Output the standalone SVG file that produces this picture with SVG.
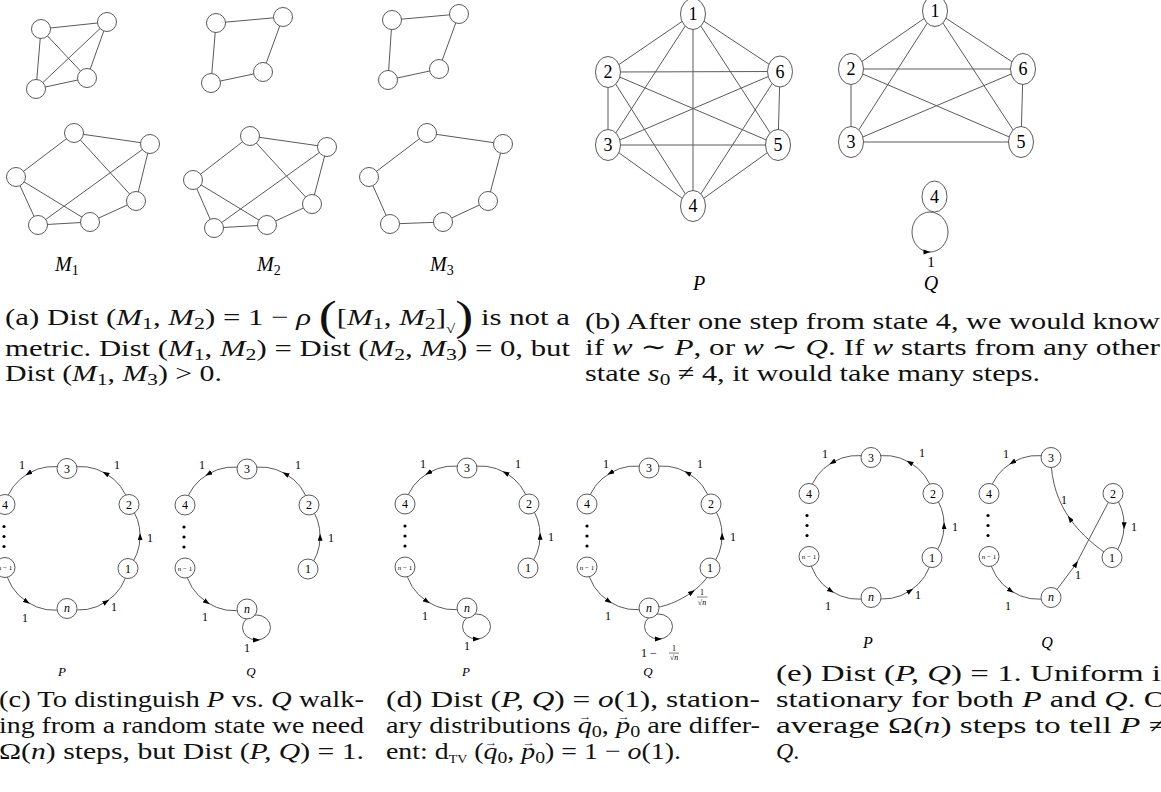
<svg xmlns="http://www.w3.org/2000/svg" xmlns:xlink="http://www.w3.org/1999/xlink" width="1161" height="792" viewBox="0 0 1161 792">
<defs>
<style>
.bg{fill:#fff}
.e{stroke:#5a5a5a;stroke-width:1;fill:none}
.ea{stroke:#5a5a5a;stroke-width:1;fill:none;marker-mid:url(#ah)}
.nd{fill:#fff;stroke:#5a5a5a;stroke-width:1}
.tx{font-family:"Liberation Serif","DejaVu Serif",serif;fill:#000}
.cap{font-family:"Liberation Serif","DejaVu Serif",serif;font-size:24px;fill:#111}
.i{font-style:italic}
.sb{font-size:17px}
.bp{font-size:42px}
.va{font-size:11px;font-style:normal}
.nl{font-family:"Liberation Serif","DejaVu Serif",serif;font-size:12px;text-anchor:middle;fill:#000}
.tiny{font-size:7px}
.el{font-family:"Liberation Serif","DejaVu Serif",serif;font-size:12px;text-anchor:middle;fill:#000}
.fr{font-family:"Liberation Serif","DejaVu Serif",serif;font-size:8px;text-anchor:middle;fill:#000}
.bl{font-family:"Liberation Serif","DejaVu Serif",serif;font-size:18px;text-anchor:middle;fill:#000}
.ml{font-family:"Liberation Serif","DejaVu Serif",serif;font-size:20px;fill:#000}
.pq{font-family:"Liberation Serif","DejaVu Serif",serif;font-style:italic;text-anchor:middle;fill:#000}
</style>
<marker id="ah" viewBox="0 0 7 5" markerWidth="7" markerHeight="5" refX="3.5" refY="2.5" orient="auto" markerUnits="userSpaceOnUse"><path d="M0,0 L7,2.5 L0,5 z" fill="#000"/></marker>
<path id="tri" d="M-3.5,-2.5 L3.5,0 L-3.5,2.5 z" fill="#000"/>
</defs>
<rect class="bg" x="0" y="0" width="1161" height="792"/>

<!-- ================= Panel (a) ================= -->
<g id="panel-a">
<g id="a-connectors">
<path class="e" d="M41,29L107,22M41,29L36,89M41,29L87,78M107,22L36,89M107,22L87,78M36,89L87,78"/>
<path class="e" d="M216,23L283,17M216,23L211,83M283,17L263,72M211,83L263,72"/>
<path class="e" d="M392,20L459,14M392,20L388,80M459,14L439,69M388,80L439,69"/>
<path class="e" d="M74,133L150,144M74,133L16,177M74,133L136,201M150,144L38,225M150,144L136,201M16,177L90,222M16,177L38,225M38,225L90,222M90,222L136,201"/>
<path class="e" d="M250,136L327,147M250,136L193,180M250,136L312,204M327,147L214,228M327,147L312,204M193,180L267,225M193,180L214,228M214,228L267,225M267,225L312,204"/>
<path class="e" d="M427,133L503,144M503,144L488,201M488,201L443,222M443,222L390,224M390,224L369,177M369,177L427,133"/>
</g>
<g id="a-M1-top"><circle class="nd" cx="41" cy="29" r="9.5"/><circle class="nd" cx="107" cy="22" r="9.5"/><circle class="nd" cx="36" cy="89" r="9.5"/><circle class="nd" cx="87" cy="78" r="9.5"/></g>
<g id="a-M2-top"><circle class="nd" cx="216" cy="23" r="9.5"/><circle class="nd" cx="283" cy="17" r="9.5"/><circle class="nd" cx="211" cy="83" r="9.5"/><circle class="nd" cx="263" cy="72" r="9.5"/></g>
<g id="a-M3-top"><circle class="nd" cx="392" cy="20" r="9.5"/><circle class="nd" cx="459" cy="14" r="9.5"/><circle class="nd" cx="388" cy="80" r="9.5"/><circle class="nd" cx="439" cy="69" r="9.5"/></g>
<g id="a-M1-bot"><circle class="nd" cx="74" cy="133" r="9.5"/><circle class="nd" cx="150" cy="144" r="9.5"/><circle class="nd" cx="16" cy="177" r="9.5"/><circle class="nd" cx="136" cy="201" r="9.5"/><circle class="nd" cx="38" cy="225" r="9.5"/><circle class="nd" cx="90" cy="222" r="9.5"/></g>
<g id="a-M2-bot"><circle class="nd" cx="250" cy="136" r="9.5"/><circle class="nd" cx="327" cy="147" r="9.5"/><circle class="nd" cx="193" cy="180" r="9.5"/><circle class="nd" cx="312" cy="204" r="9.5"/><circle class="nd" cx="214" cy="228" r="9.5"/><circle class="nd" cx="267" cy="225" r="9.5"/></g>
<g id="a-M3-bot"><circle class="nd" cx="427" cy="133" r="9.5"/><circle class="nd" cx="503" cy="144" r="9.5"/><circle class="nd" cx="369" cy="177" r="9.5"/><circle class="nd" cx="488" cy="201" r="9.5"/><circle class="nd" cx="390" cy="224" r="9.5"/><circle class="nd" cx="443" cy="222" r="9.5"/></g>
<text class="ml" x="55" y="271"><tspan class="i">M</tspan><tspan font-size="14" dy="4">1</tspan></text>
<text class="ml" x="257" y="271"><tspan class="i">M</tspan><tspan font-size="14" dy="4">2</tspan></text>
<text class="ml" x="430" y="271"><tspan class="i">M</tspan><tspan font-size="14" dy="4">3</tspan></text>
</g>

<!-- ================= Panel (b) ================= -->
<g id="panel-b">
<g id="b-connectors">
<path class="e" d="M693,14L608,72M693,14L780,71.5M693,14L608,145M693,14L778,145M693,14L693,206M608,72L780,71.5M608,72L608,145M608,72L778,145M608,72L693,206M780,71.5L608,145M780,71.5L778,145M780,71.5L693,206M608,145L778,145M608,145L693,206M778,145L693,206"/>
<path class="e" d="M935,11L851,69M935,11L1023,69M935,11L851,142M935,11L1021,142M851,69L1023,69M851,69L851,142M851,69L1021,142M1023,69L851,142M1023,69L1021,142M851,142L1021,142"/>
<ellipse class="e" cx="930" cy="232" rx="18" ry="20"/>
<use href="#tri" x="927" y="252"/>
<text class="tx" x="931" y="267" font-size="15" text-anchor="middle">1</text>
</g>
<g id="bP-1"><ellipse class="nd" cx="693" cy="14" rx="12.5" ry="15.5"/><text class="bl" x="693" y="20">1</text></g>
<g id="bP-2"><ellipse class="nd" cx="608" cy="72" rx="12.5" ry="15.5"/><text class="bl" x="608" y="78">2</text></g>
<g id="bP-6"><ellipse class="nd" cx="780" cy="71.5" rx="12.5" ry="15.5"/><text class="bl" x="780" y="77.5">6</text></g>
<g id="bP-3"><ellipse class="nd" cx="608" cy="145" rx="12.5" ry="15.5"/><text class="bl" x="608" y="151">3</text></g>
<g id="bP-5"><ellipse class="nd" cx="778" cy="145" rx="12.5" ry="15.5"/><text class="bl" x="778" y="151">5</text></g>
<g id="bP-4"><ellipse class="nd" cx="693" cy="206" rx="12.5" ry="15.5"/><text class="bl" x="693" y="212">4</text></g>
<g id="bQ-1"><ellipse class="nd" cx="935" cy="11" rx="12.5" ry="15.5"/><text class="bl" x="935" y="17">1</text></g>
<g id="bQ-2"><ellipse class="nd" cx="851" cy="69" rx="12.5" ry="15.5"/><text class="bl" x="851" y="75">2</text></g>
<g id="bQ-6"><ellipse class="nd" cx="1023" cy="69" rx="12.5" ry="15.5"/><text class="bl" x="1023" y="75">6</text></g>
<g id="bQ-3"><ellipse class="nd" cx="851" cy="142" rx="12.5" ry="15.5"/><text class="bl" x="851" y="148">3</text></g>
<g id="bQ-5"><ellipse class="nd" cx="1021" cy="142" rx="12.5" ry="15.5"/><text class="bl" x="1021" y="148">5</text></g>
<g id="bQ-4"><ellipse class="nd" cx="934.5" cy="196.5" rx="12.5" ry="15.5"/><text class="bl" x="934.5" y="202.5">4</text></g>
<text class="pq" x="699" y="290" font-size="20">P</text>
<text class="pq" x="931" y="290" font-size="20">Q</text>
</g>

<!-- ================= Panel (c) P ================= -->
<g id="panel-cP" transform="translate(67,538.5)">
<g id="cP-connectors">
<path class="ea" d="M61,30A50,50 0 0 0 73.1,-1.8A50,50 0 0 0 62,-34"/>
<path class="ea" d="M62,-34A50,50 0 0 0 38.6,-65.1A50,50 0 0 0 0,-70"/>
<path class="ea" d="M0,-70A50,50 0 0 0 -38.6,-65.1A50,50 0 0 0 -62,-34"/>
<path class="ea" d="M-62,29A50,50 0 0 0 -40.1,63.3A50,50 0 0 0 0,70"/>
<path class="ea" d="M0,70A50,50 0 0 0 39.2,63.2A50,50 0 0 0 61,30"/>
<text class="el" x="83" y="3">1</text><text class="el" x="50" y="-70">1</text><text class="el" x="-45" y="-70">1</text><text class="el" x="47" y="72">1</text><text class="el" x="-42" y="83">1</text>
</g>
<g id="cP-3"><circle class="nd" cx="0" cy="-70" r="10"/><text class="nl" x="0" y="-66">3</text></g>
<g id="cP-2"><circle class="nd" cx="62" cy="-34" r="10"/><text class="nl" x="62" y="-30">2</text></g>
<g id="cP-1"><circle class="nd" cx="61" cy="30" r="10"/><text class="nl" x="61" y="34">1</text></g>
<g id="cP-n"><circle class="nd" cx="0" cy="70" r="10"/><text class="nl i" x="0" y="73.5">n</text></g>
<g id="cP-n1"><circle class="nd" cx="-62" cy="29" r="10"/><text class="nl tiny" x="-62" y="31.5"><tspan class="i">n</tspan> − 1</text></g>
<g id="cP-4"><circle class="nd" cx="-62" cy="-34" r="10"/><text class="nl" x="-62" y="-30">4</text></g>
<g id="cP-dots"><circle cx="-63" cy="-12" r="1.6"/><circle cx="-63" cy="-2" r="1.6"/><circle cx="-63" cy="8" r="1.6"/></g>
</g>
<text class="pq" x="62" y="676" font-size="13">P</text>

<!-- ================= Panel (c) Q ================= -->
<g id="panel-cQ" transform="translate(247,539)">
<g id="cQ-connectors">
<path class="ea" d="M61,30A50,50 0 0 0 73.1,-1.8A50,50 0 0 0 62,-34"/>
<path class="ea" d="M62,-34A50,50 0 0 0 38.6,-65.1A50,50 0 0 0 0,-70"/>
<path class="ea" d="M0,-70A50,50 0 0 0 -38.6,-65.1A50,50 0 0 0 -62,-34"/>
<path class="ea" d="M-62,29A50,50 0 0 0 -40.1,63.3A50,50 0 0 0 0,70"/>
<ellipse class="e" cx="9.5" cy="88.5" rx="14" ry="12.5"/><use href="#tri" x="9.5" y="101"/>
<text class="el" x="84" y="3">1</text><text class="el" x="51" y="-70">1</text><text class="el" x="-45" y="-70">1</text><text class="el" x="-42" y="82">1</text><text class="el" x="0" y="113">1</text>
</g>
<g id="cQ-3"><circle class="nd" cx="0" cy="-70" r="10"/><text class="nl" x="0" y="-66">3</text></g>
<g id="cQ-2"><circle class="nd" cx="62" cy="-34" r="10"/><text class="nl" x="62" y="-30">2</text></g>
<g id="cQ-1"><circle class="nd" cx="61" cy="30" r="10"/><text class="nl" x="61" y="34">1</text></g>
<g id="cQ-n"><circle class="nd" cx="0" cy="70" r="10"/><text class="nl i" x="0" y="73.5">n</text></g>
<g id="cQ-n1"><circle class="nd" cx="-62" cy="29" r="10"/><text class="nl tiny" x="-62" y="31.5"><tspan class="i">n</tspan> − 1</text></g>
<g id="cQ-4"><circle class="nd" cx="-62" cy="-34" r="10"/><text class="nl" x="-62" y="-30">4</text></g>
<g id="cQ-dots"><circle cx="-63" cy="-12" r="1.6"/><circle cx="-63" cy="-2" r="1.6"/><circle cx="-63" cy="8" r="1.6"/></g>
</g>
<text class="pq" x="251" y="676" font-size="13">Q</text>

<!-- ================= Panel (d) P ================= -->
<g id="panel-dP" transform="translate(467,538)">
<g id="dP-connectors">
<path class="ea" d="M61,30A50,50 0 0 0 73.1,-1.8A50,50 0 0 0 62,-34"/>
<path class="ea" d="M62,-34A50,50 0 0 0 38.6,-65.1A50,50 0 0 0 0,-70"/>
<path class="ea" d="M0,-70A50,50 0 0 0 -38.6,-65.1A50,50 0 0 0 -62,-34"/>
<path class="ea" d="M-62,29A50,50 0 0 0 -40.1,63.3A50,50 0 0 0 0,70"/>
<ellipse class="e" cx="9.5" cy="88.5" rx="14" ry="12.5"/><use href="#tri" x="9.5" y="101"/>
<text class="el" x="84" y="3">1</text><text class="el" x="51" y="-70">1</text><text class="el" x="-44" y="-70">1</text><text class="el" x="-42" y="82">1</text><text class="el" x="0" y="112">1</text>
</g>
<g id="dP-3"><circle class="nd" cx="0" cy="-70" r="10"/><text class="nl" x="0" y="-66">3</text></g>
<g id="dP-2"><circle class="nd" cx="62" cy="-34" r="10"/><text class="nl" x="62" y="-30">2</text></g>
<g id="dP-1"><circle class="nd" cx="61" cy="30" r="10"/><text class="nl" x="61" y="34">1</text></g>
<g id="dP-n"><circle class="nd" cx="0" cy="70" r="10"/><text class="nl i" x="0" y="73.5">n</text></g>
<g id="dP-n1"><circle class="nd" cx="-62" cy="29" r="10"/><text class="nl tiny" x="-62" y="31.5"><tspan class="i">n</tspan> − 1</text></g>
<g id="dP-4"><circle class="nd" cx="-62" cy="-34" r="10"/><text class="nl" x="-62" y="-30">4</text></g>
<g id="dP-dots"><circle cx="-62" cy="-12" r="1.6"/><circle cx="-62" cy="-2" r="1.6"/><circle cx="-62" cy="8" r="1.6"/></g>
</g>
<text class="pq" x="466" y="676" font-size="13">P</text>

<!-- ================= Panel (d) Q ================= -->
<g id="panel-dQ" transform="translate(649,538)">
<g id="dQ-connectors">
<path class="ea" d="M61,30A50,50 0 0 0 73.1,-1.8A50,50 0 0 0 62,-34"/>
<path class="ea" d="M62,-34A50,50 0 0 0 38.6,-65.1A50,50 0 0 0 0,-70"/>
<path class="ea" d="M0,-70A50,50 0 0 0 -38.6,-65.1A50,50 0 0 0 -62,-34"/>
<path class="ea" d="M-62,29A50,50 0 0 0 -40.1,63.3A50,50 0 0 0 0,70"/>
<path class="ea" d="M0,70C15,70 31,62.75 42.9,54.1C54.75,45.5 62.5,35.5 61,30"/>
<ellipse class="e" cx="9.5" cy="88.5" rx="14" ry="12.5"/><use href="#tri" x="9.5" y="101"/>
<text class="el" x="84" y="3">1</text><text class="el" x="51" y="-70">1</text><text class="el" x="-43" y="-70">1</text><text class="el" x="-41" y="82">1</text>
<text class="fr" x="53" y="56.5">1</text><line x1="48" y1="59" x2="58.5" y2="59" stroke="#000" stroke-width="0.5"/><text class="fr" x="53" y="66.5">√<tspan class="i">n</tspan></text>
<text class="el" x="0" y="119" font-size="11" text-anchor="start">1 −</text>
<text class="fr" x="25" y="112.5" font-size="7">1</text><line x1="20" y1="115" x2="30" y2="115" stroke="#000" stroke-width="0.5"/><text class="fr" x="25" y="121.5" font-size="7">√<tspan class="i">n</tspan></text>
</g>
<g id="dQ-3"><circle class="nd" cx="0" cy="-70" r="10"/><text class="nl" x="0" y="-66">3</text></g>
<g id="dQ-2"><circle class="nd" cx="62" cy="-34" r="10"/><text class="nl" x="62" y="-30">2</text></g>
<g id="dQ-1"><circle class="nd" cx="61" cy="30" r="10"/><text class="nl" x="61" y="34">1</text></g>
<g id="dQ-n"><circle class="nd" cx="0" cy="70" r="10"/><text class="nl i" x="0" y="73.5">n</text></g>
<g id="dQ-n1"><circle class="nd" cx="-62" cy="29" r="10"/><text class="nl tiny" x="-62" y="31.5"><tspan class="i">n</tspan> − 1</text></g>
<g id="dQ-4"><circle class="nd" cx="-62" cy="-34" r="10"/><text class="nl" x="-62" y="-30">4</text></g>
<g id="dQ-dots"><circle cx="-62" cy="-12" r="1.6"/><circle cx="-62" cy="-2" r="1.6"/><circle cx="-62" cy="8" r="1.6"/></g>
</g>
<text class="pq" x="648" y="676" font-size="13">Q</text>

<!-- ================= Panel (e) P ================= -->
<g id="panel-eP" transform="translate(871,527.5)">
<g id="eP-connectors">
<path class="ea" d="M61,30A50,50 0 0 0 73.1,-1.8A50,50 0 0 0 62,-34"/>
<path class="ea" d="M62,-34A50,50 0 0 0 38.6,-65.1A50,50 0 0 0 0,-70"/>
<path class="ea" d="M0,-70A50,50 0 0 0 -38.6,-65.1A50,50 0 0 0 -62,-34"/>
<path class="ea" d="M-62,29A50,50 0 0 0 -40.1,63.3A50,50 0 0 0 0,70"/>
<path class="ea" d="M0,70A50,50 0 0 0 39.2,63.2A50,50 0 0 0 61,30"/>
<text class="el" x="84" y="3.5">1</text><text class="el" x="51" y="-70.5">1</text><text class="el" x="-46" y="-69.5">1</text><text class="el" x="47" y="71.5">1</text><text class="el" x="-43" y="82.5">1</text>
</g>
<g id="eP-3"><circle class="nd" cx="0" cy="-70" r="10"/><text class="nl" x="0" y="-66">3</text></g>
<g id="eP-2"><circle class="nd" cx="62" cy="-34" r="10"/><text class="nl" x="62" y="-30">2</text></g>
<g id="eP-1"><circle class="nd" cx="61" cy="30" r="10"/><text class="nl" x="61" y="34">1</text></g>
<g id="eP-n"><circle class="nd" cx="0" cy="70" r="10"/><text class="nl i" x="0" y="73.5">n</text></g>
<g id="eP-n1"><circle class="nd" cx="-62" cy="29" r="10"/><text class="nl tiny" x="-62" y="31.5"><tspan class="i">n</tspan> − 1</text></g>
<g id="eP-4"><circle class="nd" cx="-62" cy="-34" r="10"/><text class="nl" x="-62" y="-30">4</text></g>
<g id="eP-dots"><circle cx="-64" cy="-12" r="1.6"/><circle cx="-64" cy="-2" r="1.6"/><circle cx="-64" cy="8" r="1.6"/></g>
</g>
<text class="pq" x="868" y="648" font-size="16">P</text>

<!-- ================= Panel (e) Q ================= -->
<g id="panel-eQ" transform="translate(1051,527.5)">
<g id="eQ-connectors">
<path class="ea" d="M0,-70A50,50 0 0 0 -38.6,-65.1A50,50 0 0 0 -62,-34"/>
<path class="ea" d="M-62,29A50,50 0 0 0 -40.1,63.3A50,50 0 0 0 0,70"/>
<path class="ea" d="M61,30C45.5,19.75 30.25,7.375 18.9,-8.8C7.5,-25 0,-45 0,-70"/>
<path class="ea" d="M62,-34A50,50 0 0 1 73.1,-1.8A50,50 0 0 1 61,30"/>
<path class="ea" d="M0,70L25,36.5L62,-34"/>
<text class="el" x="-45" y="-70">1</text><text class="el" x="-43" y="82.5">1</text><text class="el" x="13" y="-23.5">1</text><text class="el" x="83" y="3.5">1</text><text class="el" x="27" y="51.5">1</text>
</g>
<g id="eQ-3"><circle class="nd" cx="0" cy="-70" r="10"/><text class="nl" x="0" y="-66">3</text></g>
<g id="eQ-2"><circle class="nd" cx="62" cy="-34" r="10"/><text class="nl" x="62" y="-30">2</text></g>
<g id="eQ-1"><circle class="nd" cx="61" cy="30" r="10"/><text class="nl" x="61" y="34">1</text></g>
<g id="eQ-n"><circle class="nd" cx="0" cy="70" r="10"/><text class="nl i" x="0" y="73.5">n</text></g>
<g id="eQ-n1"><circle class="nd" cx="-62" cy="29" r="10"/><text class="nl tiny" x="-62" y="31.5"><tspan class="i">n</tspan> − 1</text></g>
<g id="eQ-4"><circle class="nd" cx="-62" cy="-34" r="10"/><text class="nl" x="-62" y="-30">4</text></g>
<g id="eQ-dots"><circle cx="-63" cy="-12" r="1.6"/><circle cx="-63" cy="-2" r="1.6"/><circle cx="-63" cy="8" r="1.6"/></g>
</g>
<text class="pq" x="1047" y="648" font-size="16">Q</text>

<!-- ================= Captions ================= -->
<g id="captions">
<text class="cap" x="5" y="325" textLength="565" lengthAdjust="spacingAndGlyphs">(a) Dist (<tspan class="i">M</tspan><tspan class="sb" dy="4">1</tspan><tspan dy="-4">, </tspan><tspan class="i">M</tspan><tspan class="sb" dy="4">2</tspan><tspan dy="-4">) = 1 − </tspan><tspan class="i">ρ</tspan> <tspan class="bp" dy="5">(</tspan><tspan dy="-5">[</tspan><tspan class="i">M</tspan><tspan class="sb" dy="4">1</tspan><tspan dy="-4">, </tspan><tspan class="i">M</tspan><tspan class="sb" dy="4">2</tspan><tspan dy="-4">]</tspan><tspan font-size="13" dy="8">√</tspan><tspan class="bp" dy="-3">)</tspan><tspan dy="-5"> is not a</tspan></text>
<text class="cap" x="5" y="356" textLength="565" lengthAdjust="spacingAndGlyphs">metric.  Dist (<tspan class="i">M</tspan><tspan class="sb" dy="4">1</tspan><tspan dy="-4">, </tspan><tspan class="i">M</tspan><tspan class="sb" dy="4">2</tspan><tspan dy="-4">) = Dist (</tspan><tspan class="i">M</tspan><tspan class="sb" dy="4">2</tspan><tspan dy="-4">, </tspan><tspan class="i">M</tspan><tspan class="sb" dy="4">3</tspan><tspan dy="-4">) = 0, but</tspan></text>
<text class="cap" x="5" y="381" textLength="217" lengthAdjust="spacingAndGlyphs">Dist (<tspan class="i">M</tspan><tspan class="sb" dy="4">1</tspan><tspan dy="-4">, </tspan><tspan class="i">M</tspan><tspan class="sb" dy="4">3</tspan><tspan dy="-4">) &gt; 0.</tspan></text>

<text class="cap" x="585" y="329" textLength="575" lengthAdjust="spacingAndGlyphs">(b) After one step from state 4, we would know</text>
<text class="cap" x="585" y="355" textLength="575" lengthAdjust="spacingAndGlyphs">if <tspan class="i">w</tspan> ∼ <tspan class="i">P</tspan>, or <tspan class="i">w</tspan> ∼ <tspan class="i">Q</tspan>.  If <tspan class="i">w</tspan> starts from any other</text>
<text class="cap" x="585" y="381" textLength="455" lengthAdjust="spacingAndGlyphs">state <tspan class="i">s</tspan><tspan class="sb" dy="4">0</tspan><tspan dy="-4"> ≠ 4, it would take many steps.</tspan></text>

<text class="cap" x="-1" y="707" textLength="365" lengthAdjust="spacingAndGlyphs">(c) To distinguish <tspan class="i">P</tspan> vs. <tspan class="i">Q</tspan> walk-</text>
<text class="cap" x="-1" y="733" textLength="365" lengthAdjust="spacingAndGlyphs">ing from a random state we need</text>
<text class="cap" x="-1" y="759" textLength="365" lengthAdjust="spacingAndGlyphs">Ω(<tspan class="i">n</tspan>) steps, but Dist (<tspan class="i">P, Q</tspan>) = 1.</text>

<text class="cap" x="386" y="707" textLength="374" lengthAdjust="spacingAndGlyphs">(d) Dist (<tspan class="i">P, Q</tspan>) = <tspan class="i">o</tspan>(1), station-</text>
<text class="cap" x="386" y="733" textLength="374" lengthAdjust="spacingAndGlyphs">ary distributions <tspan class="i">q</tspan><tspan class="va" dx="-11" dy="-13">→</tspan><tspan class="sb" dx="0" dy="17">0</tspan><tspan dy="-4">, </tspan><tspan class="i">p</tspan><tspan class="va" dx="-11" dy="-13">→</tspan><tspan class="sb" dx="0" dy="17">0</tspan><tspan dy="-4"> are differ-</tspan></text>
<text class="cap" x="386" y="759" textLength="295" lengthAdjust="spacingAndGlyphs">ent: d<tspan font-size="12" dy="4">TV</tspan><tspan dy="-4"> (</tspan><tspan class="i">q</tspan><tspan class="va" dx="-11" dy="-13">→</tspan><tspan class="sb" dx="0" dy="17">0</tspan><tspan dy="-4">, </tspan><tspan class="i">p</tspan><tspan class="va" dx="-11" dy="-13">→</tspan><tspan class="sb" dx="0" dy="17">0</tspan><tspan dy="-4">) = 1 − </tspan><tspan class="i">o</tspan>(1).</text>

<text class="cap" x="776" y="681" textLength="385" lengthAdjust="spacingAndGlyphs">(e) Dist (<tspan class="i">P, Q</tspan>) = 1.  Uniform i</text>
<text class="cap" x="776" y="707" textLength="391" lengthAdjust="spacingAndGlyphs">stationary for both <tspan class="i">P</tspan> and <tspan class="i">Q</tspan>.  O</text>
<text class="cap" x="776" y="733" textLength="391" lengthAdjust="spacingAndGlyphs">average Ω(<tspan class="i">n</tspan>) steps to tell <tspan class="i">P</tspan> ≠</text>
<text class="cap" x="776" y="759"><tspan class="i">Q</tspan>.</text>
</g>
</svg>
